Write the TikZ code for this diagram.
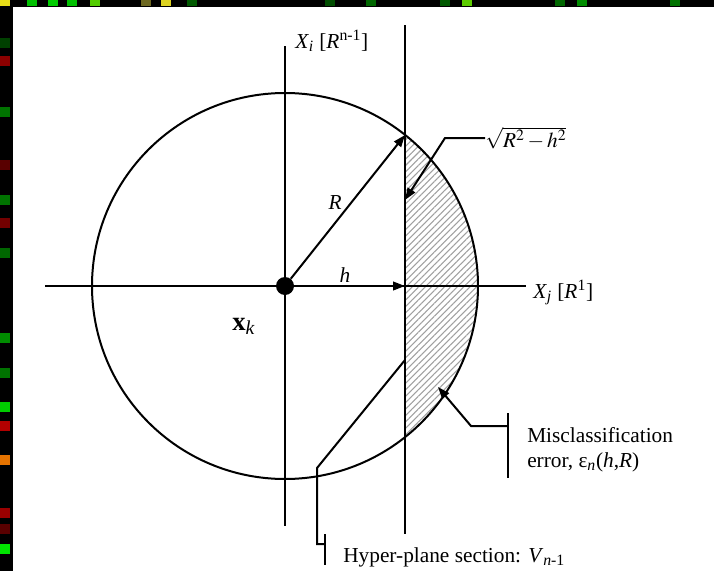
\documentclass[tikz,border=0pt]{standalone}
\usepackage{amsmath}
\usepackage{mathptmx}
\usepackage{fontspec}
\setmainfont{Liberation Serif}
\usetikzlibrary{arrows.meta,patterns.meta}
\definecolor{hatchGray}{RGB}{160,160,160}

\begin{document}
\begin{tikzpicture}[x=0.75pt,y=-0.75pt,
  stroke/.style={line width=1.5pt},
  arr/.style={stroke,-{Triangle[length=9pt,width=6.5pt]}},
  lbl/.style={inner sep=0pt,font=\fontsize{16}{18.75}\selectfont}]
\useasboundingbox (0,0) rectangle (714,571);
\fill[white] (0,0) rectangle (714,571);
\fill[black] (0,0) rectangle (13,571);
\fill[black] (0,0) rectangle (714,7);
\foreach \x/\c in {0/yellow!90!black,27/green!75!black,48/green!80!black,67/green!75!black,90/green!60!yellow!80!black,141/olive!70!black,161/yellow!85!black,187/green!35!black,325/green!30!black,366/green!40!black,440/green!35!black,462/green!55!yellow!80!black,555/green!40!black,577/green!55!black,670/green!45!black}
  \fill[\c] (\x,0) rectangle ++(10,6);
\foreach \y/\c in {38/green!25!black,56/red!55!black,107/green!45!black,160/red!35!black,195/green!45!black,218/red!45!black,248/green!40!black,333/green!55!black,368/green!45!black,402/green!80!black,421/red!70!black,455/orange!90!black,508/red!60!black,524/red!35!black,544/green!90!black}
  \fill[\c] (0,\y) rectangle ++(10,10);

\coordinate (c) at (285,286);
\begin{scope}
\clip (405,0) rectangle (714,571);
\fill[pattern={Lines[angle=45,distance=3.4pt,line width=0.8pt]},pattern color=hatchGray] (c) circle[radius=144.75pt];
\end{scope}
\draw[stroke] (c) circle[radius=144.75pt];

\coordinate (xjleft) at (45,286);
\coordinate (xjright) at (526,286);
\coordinate (xitop) at (285,46);
\coordinate (xibot) at (285,526);
\coordinate (hptop) at (405,25);
\coordinate (hpbot) at (405,534);
\coordinate (rtip) at (405,135);
\coordinate (htip) at (405,286);
\draw[stroke] (xjleft) -- (xjright);
\draw[stroke] (xitop) -- (xibot);
\draw[stroke] (hptop) -- (hpbot);
\node[circle,fill,inner sep=0pt,minimum size=13.5pt] (dot) at (c) {};
\draw[arr] (dot) -- (rtip);
\draw[arr] (dot) -- (htip);

\node[lbl,anchor=base west] (xilbl) at (295,48) {\textit{X}\textsubscript{\textit{i}} [\textit{R}\textsuperscript{n-1}]};
\node[lbl,anchor=base west] (xjlbl) at (533,298) {\textit{X}\textsubscript{\textit{j}} [\textit{R}\textsuperscript{1}]};
\node[lbl,anchor=base east] (rlbl) at (342,209) {\textit{R}};
\node[lbl,anchor=base] (hlbl) at (345,282) {\textit{h}};
\node[lbl,anchor=base west,font=\fontsize{20}{24}\selectfont] (xklbl) at (232,330) {\textbf{x}\textsubscript{\textit{k}}};
\node[lbl,anchor=base west] (sqlbl) at (485,147) {$\sqrt{R^2-h^2}$};
\node[lbl,anchor=north west,align=left] (errlbl) at (527,427) {Misclassification\\error, ε\textsubscript{\textit{n}}(\textit{h},\textit{R})};
\node[lbl,anchor=base west] (hplbl) at (343,562) {Hyper-plane section: \textit{V}\textsubscript{\textit{n}-1}};

\coordinate (sqbend) at (445,138);
\coordinate (sqtip) at (405,200);
\draw[arr] (sqlbl.west |- sqbend) -- (sqbend) -- (sqtip);

\coordinate (errbar1) at (508,413);
\coordinate (errbar2) at (508,478);
\coordinate (errbend) at (471,426);
\coordinate (errtip) at (438,387);
\draw[stroke] (errbar1) -- (errbar2);
\draw[arr] (errbar1 |- errbend) -- (errbend) -- (errtip);

\coordinate (hpbar1) at (325,534);
\coordinate (hpbar2) at (325,565);
\coordinate (hpbend1) at (317,544);
\coordinate (hpbend2) at (317,468);
\coordinate (hpend) at (405,360);
\draw[stroke] (hpbar1) -- (hpbar2);
\draw[stroke] (hpbar1 |- hpbend1) -- (hpbend1) -- (hpbend2) -- (hpend);
\end{tikzpicture}
\end{document}
